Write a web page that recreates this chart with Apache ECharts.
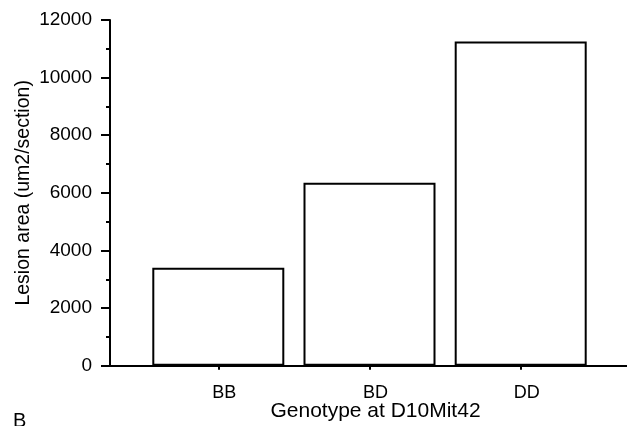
<!DOCTYPE html>
<html>
<head>
<meta charset="utf-8">
<script src="https://cdn.jsdelivr.net/npm/echarts@6/dist/echarts.min.js"></script>
<style>html,body{margin:0;padding:0;background:#fff;}#c{width:627px;height:426px;}</style>
</head>
<body>
<div id="c"></div>
<script>
const categories = ['BB', 'BD', 'DD'];
const lesionArea = [3400, 6350, 11250];
const yTicks = [0, 2000, 4000, 6000, 8000, 10000, 12000];

const FONT = '"Liberation Sans", Arial, Helvetica, sans-serif';
const chart = echarts.init(document.getElementById('c'), null, {renderer: 'canvas'});
const TOP = 20, BOTTOM = 60.3;
const GRID1_LEFT = 142.7;
chart.setOption({
  backgroundColor: '#fff',
  animation: false,
  grid: [
    {left: 110, right: 0, top: TOP, bottom: BOTTOM, containLabel: false, outerBoundsMode: 'none'},
    {left: GRID1_LEFT, width: 453.6, top: TOP, bottom: BOTTOM, containLabel: false, outerBoundsMode: 'none'}
  ],
  xAxis: [
    {type: 'value', gridIndex: 0, min: 0, max: 1,
     axisLine: {show: true, onZero: false, lineStyle: {color: '#000', width: 2}},
     axisTick: {show: false}, axisLabel: {show: false}, splitLine: {show: false}},
    {type: 'category', gridIndex: 1, data: categories,
     axisLine: {show: false},
     axisTick: {show: true, alignWithLabel: true, length: 4, lineStyle: {color: '#000', width: 2}},
     axisLabel: {color: '#000', fontFamily: FONT, fontSize: 18, margin: 18, padding: [0, 0, 0, 12]},
     name: 'Genotype at D10Mit42', nameLocation: 'middle', nameGap: 35, nameMoveOverlap: false,
     nameTextStyle: {color: '#000', fontFamily: FONT, fontSize: 21, padding: [0, 0, 0, 12]}}
  ],
  yAxis: [
    {type: 'value', gridIndex: 0, min: 0, max: 12000, interval: 2000, show: false, splitLine: {show: false}},
    {type: 'value', gridIndex: 1, min: yTicks[0], max: yTicks[yTicks.length - 1], interval: 2000,
     offset: GRID1_LEFT - 110,
     axisLine: {show: true, onZero: false, lineStyle: {color: '#000', width: 2}},
     axisTick: {show: true, length: 9, lineStyle: {color: '#000', width: 2}},
     minorTick: {show: true, splitNumber: 2, length: 4, lineStyle: {color: '#000', width: 2}},
     axisLabel: {color: '#000', fontFamily: FONT, fontSize: 19, margin: 18,
                 formatter: v => String(v)},
     splitLine: {show: false},
     name: 'Lesion area (um2/section)', nameLocation: 'middle', nameGap: 76, nameMoveOverlap: false,
     nameTextStyle: {color: '#000', fontFamily: FONT, fontSize: 19.5}}
  ],
  graphic: [
    {type: 'text', left: 13, top: 411, style: {text: 'B', font: '20px ' + FONT, fill: '#000'}}
  ],
  series: [{
    type: 'bar', xAxisIndex: 1, yAxisIndex: 1, data: lesionArea, barWidth: 132,
    itemStyle: {color: '#fff', borderColor: '#000', borderWidth: 2}
  }]
});
</script>
</body>
</html>
